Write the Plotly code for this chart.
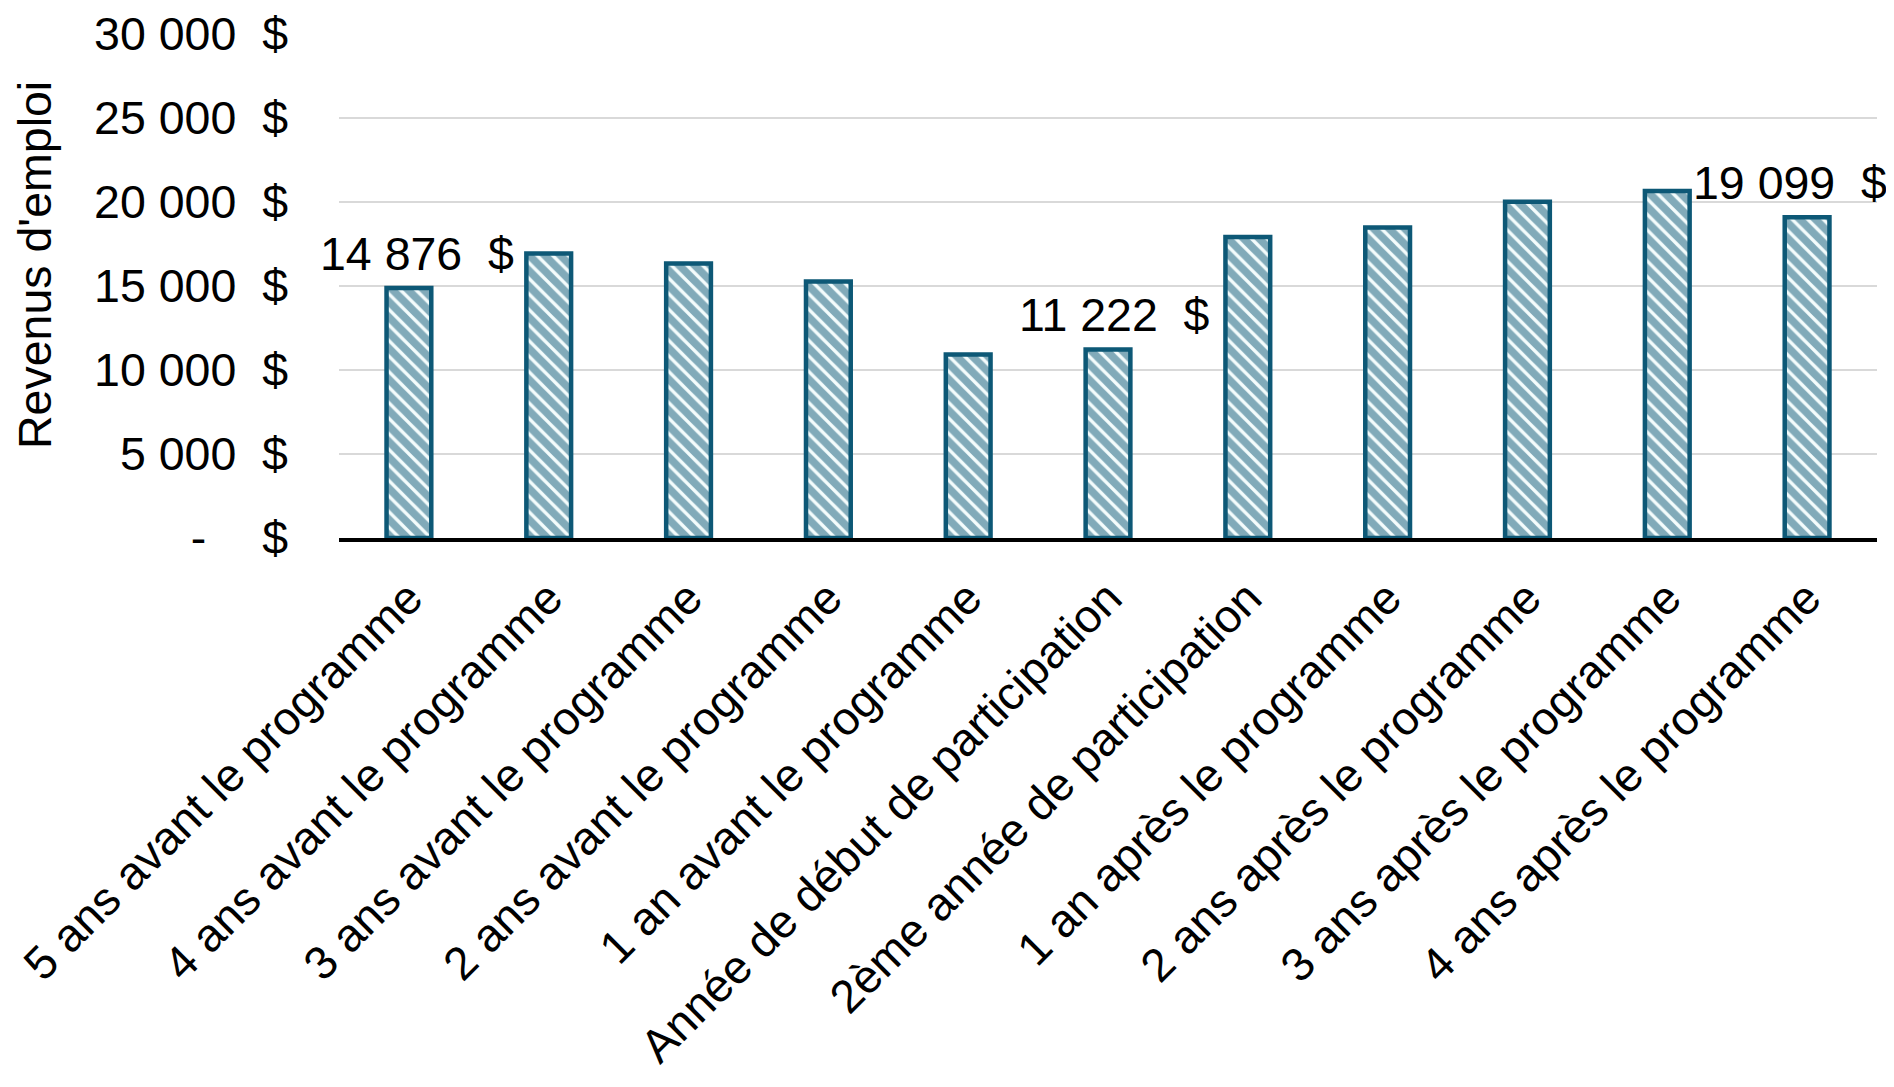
import plotly.graph_objects as go

# ---- data ----
categories = [
    "5 ans avant le programme",
    "4 ans avant le programme",
    "3 ans avant le programme",
    "2 ans avant le programme",
    "1 an avant le programme",
    "Année de début de participation",
    "2ème année de participation",
    "1 an après le programme",
    "2 ans après le programme",
    "3 ans après le programme",
    "4 ans après le programme",
]
values = [14876, 16930, 16340, 15270, 10920, 11222, 17920, 18480, 20010, 20660, 19099]
labeled_categories = [
    "5 ans avant le programme",
    "Année de début de participation",
    "4 ans après le programme",
]
y_ticks = [0, 5000, 10000, 15000, 20000, 25000, 30000]
y_title = "Revenus d'emploi"


def money(v):
    if v == 0:
        return "-\u2003\u2009$"
    return f"{v:,.0f}".replace(",", "\u00a0") + "\u00a0\u00a0$"


# ---- style ----
FONT = "Arial, Liberation Sans, sans-serif"
FS = 46.5
TEAL = "#0D5876"
PAGE_OFF = 8                      # default body margin of the html page
W, H = 1894 - PAGE_OFF, 1087 - 2 * PAGE_OFF
# plot area wanted on the page: left 339, right 1877, top 34, bottom 538
ML = 339 - PAGE_OFF
MT = 34 - PAGE_OFF
MR = W - (1877 - PAGE_OFF)
MB = H - (538 - PAGE_OFF)

fig = go.Figure()
fig.add_trace(
    go.Bar(
        x=categories,
        y=values,
        width=0.32,
        marker=dict(
            color="#F4FCFC",
            line=dict(color=TEAL, width=4.5),
            pattern=dict(shape="\\", fgcolor=TEAL, bgcolor="#F4FCFC", size=11, solidity=0.7),
        ),
        hoverinfo="skip",
    )
)

label_xshift = {0: 8, 5: 6, 10: -17}
for cat in labeled_categories:
    i = categories.index(cat)
    fig.add_annotation(
        x=cat,
        y=values[i],
        xref="x",
        yref="y",
        text=money(values[i]),
        showarrow=False,
        yanchor="bottom",
        xanchor="center",
        yshift=6,
        xshift=label_xshift.get(i, 0),
        font=dict(family=FONT, size=FS, color="black"),
    )

plot_w = W - ML - MR
plot_h = H - MT - MB
fig.add_annotation(
    text=y_title,
    xref="paper",
    yref="paper",
    x=(35 - 339) / plot_w,
    y=(538 - 265) / plot_h,
    textangle=-90,
    showarrow=False,
    xanchor="center",
    yanchor="middle",
    font=dict(family=FONT, size=FS, color="black"),
)

fig.update_layout(
    width=W,
    height=H,
    autosize=False,
    margin=dict(l=ML, r=MR, t=MT, b=MB),
    paper_bgcolor="white",
    plot_bgcolor="white",
    showlegend=False,
    font=dict(family=FONT, color="black"),
)
fig.update_xaxes(
    type="category",
    range=[-0.5, len(categories) - 0.5],
    tickangle=-45,
    tickfont=dict(family=FONT, size=FS, color="black"),
    showline=True,
    linecolor="black",
    linewidth=4,
    showgrid=False,
    ticks="",
    ticklabelstandoff=10,
    automargin=False,
)
fig.update_yaxes(
    range=[0, 30000],
    tickvals=y_ticks,
    ticktext=[money(v) for v in y_ticks],
    tickfont=dict(family=FONT, size=FS, color="black"),
    showgrid=True,
    gridcolor="#D9D9D9",
    gridwidth=1.5,
    zeroline=False,
    showline=False,
    ticks="",
    ticklabelstandoff=50,
    automargin=False,
)

fig.write_html("out.html")
